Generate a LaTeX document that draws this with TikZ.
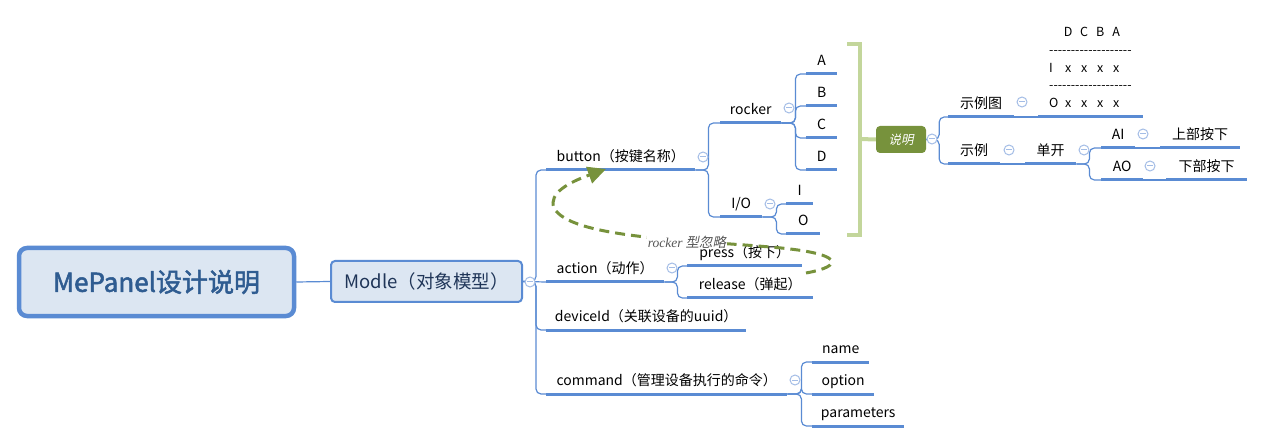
\documentclass[tikz,border=0pt]{standalone}
\usepackage{fontspec}
\setmainfont{Noto Sans CJK SC}
\newfontfamily\slantcjk{Noto Sans CJK SC}[FakeSlant=0.2]
\newfontfamily\rootfont{Noto Sans CJK SC}[FakeBold=2]
\newfontfamily\labelserif{Liberation Serif}
\usetikzlibrary{arrows.meta,calc}
\definecolor{lineblue}{HTML}{5A8BD3}
\definecolor{boxfill}{HTML}{DCE6F2}
\definecolor{foldblue}{HTML}{A4BDE6}
\definecolor{olivegreen}{HTML}{77923C}
\definecolor{brgreen}{HTML}{C3D69B}
\definecolor{roottext}{HTML}{2F5C91}
\definecolor{modtext}{HTML}{1F3558}
\definecolor{lbltext}{HTML}{555555}
\newcommand\dashrow{-{}-{}-{}-{}-{}-{}-{}-{}-{}-{}-{}-{}-{}-{}-{}-{}-{}-{}-{}}
\newcommand\gcell[1]{\makebox[16pt]{#1}}
\begin{document}
\begin{tikzpicture}[x=1pt,y=-1pt,
  topic/.style={anchor=south west, inner xsep=0pt, inner ysep=5pt, text height=11pt, text depth=3pt,
    font=\fontsize{14}{16}\selectfont, minimum width=#1pt},
  ul/.style={draw=lineblue, line width=3pt},
  conn/.style={draw=lineblue, line width=1.2pt, rounded corners=5pt},
  fold/.style={circle, draw=foldblue, line width=1pt, fill=white, minimum size=10pt, inner sep=0pt,
    path picture={\draw[foldblue, line width=1pt] ([xshift=-3pt]path picture bounding box.center) -- ([xshift=3pt]path picture bounding box.center);}},
  rootbox/.style={draw=lineblue, line width=4.5pt, fill=boxfill, rounded corners=8pt,
    minimum width=275pt, minimum height=68pt, text=roottext, font=\rootfont\fontsize{26}{30}\selectfont},
  modbox/.style={draw=lineblue, line width=2pt, fill=boxfill, rounded corners=4pt,
    minimum width=191pt, minimum height=41pt, text=modtext, font=\fontsize{18.5}{22}\selectfont},
  smbox/.style={fill=olivegreen, rounded corners=4pt, minimum width=50pt, minimum height=27pt,
    text=white, font=\slantcjk\fontsize{12.5}{14}\selectfont},
  bracket/.style={draw=brgreen, line width=4pt},
  dasharrow/.style={draw=olivegreen, line width=3pt, dash pattern=on 10pt off 6pt,
    -{Triangle[length=18pt,width=17pt]}},
  lbl/.style={fill=white, inner sep=1pt, text=lbltext, font=\fontsize{13.5}{15}\selectfont},
  gridbox/.style={anchor=south west, inner xsep=11pt, inner ysep=9pt, text width=83pt,
    align=left, font=\fontsize{12.5}{17.75}\selectfont}
]
\useasboundingbox (0,0) rectangle (1265,443);

% main nodes
\node[rootbox] (root) at (156.5,282) {MePanel设计说明};
\node[modbox] (modle) at (426.5,281.5) {Modle（对象模型）};

% level 1
\node[topic=149] (button)  at (546,170) {button（按键名称）};
\node[topic=118] (action)  at (546,282) {action（动作）};
\node[topic=200] (device)  at (546,330) {deviceId（关联设备的uuid）};
\node[topic=241] (command) at (546,394) {command（管理设备执行的命令）};

% button subtree
\node[topic=61] (rocker) at (720,123) {rocker};
\node[topic=42] (io)     at (720,217) {I/O};
\node[topic=31] (A) at (806,74)  {A};
\node[topic=31] (B) at (806,106) {B};
\node[topic=31] (C) at (806,138) {C};
\node[topic=31] (D) at (806,170) {D};
\node[topic=27] (I) at (786,204) {I};
\node[topic=34] (O) at (786,234) {O};

% action subtree
\node[topic=115] (press)   at (687,266) {press（按下）};
\node[topic=126] (release) at (687,298) {release（弹起）};

% command subtree
\node[topic=57] (name)   at (812,362) {name};
\node[topic=62] (option) at (812,394) {option};
\node[topic=92] (params) at (812,426) {parameters};

% summary
\node[smbox] (sm) at (901,139.5) {说明};
\node[topic=66] (shilitu) at (948,117) {示例图};
\node[topic=52] (shili)   at (948,164) {示例};
\node[gridbox] (grid) at (1038,117) {%
\makebox[11pt]{}\gcell{D}\gcell{C}\gcell{B}\gcell{A}\\
\dashrow\\
\makebox[11pt][l]{I}\gcell{x}\gcell{x}\gcell{x}\gcell{x}\\
\dashrow\\
\makebox[11pt][l]{O}\gcell{x}\gcell{x}\gcell{x}\gcell{x}};
\node[topic=51] (dankai) at (1025,164) {单开};
\node[topic=34] (AI) at (1101,148) {AI};
\node[topic=42] (AO) at (1101,180) {AO};
\node[topic=80] (up)   at (1160,148) {上部按下};
\node[topic=81] (down) at (1166,180) {下部按下};

% underlines
\foreach \n in {button,action,device,command,rocker,io,A,B,C,D,I,O,press,release,name,option,params,shilitu,shili,grid,dankai,AI,AO,up,down}
  \draw[ul] (\n.south west) -- (\n.south east);

% connectors
\draw[conn] (root.east) -- (modle.west);
\draw[conn] (modle.east) -- (action.south west);
\foreach \n in {button,device,command} \draw[conn] (modle.east) -- ++(13,0) |- (\n.south west);
\foreach \n in {rocker,io} \draw[conn] (button.south east) -- ++(13,0) |- (\n.south west);
\foreach \n in {A,B,C,D} \draw[conn] (rocker.south east) -- ++(14,0) |- (\n.south west);
\foreach \n in {I,O} \draw[conn] (io.south east) -- ++(14,0) |- (\n.south west);
\foreach \n in {press,release} \draw[conn] (action.south east) -- ++(13,0) |- (\n.south west);
\foreach \n in {name,option,params} \draw[conn] (command.south east) -- ++(14,0) |- (\n.south west);
\foreach \n in {shilitu,shili} \draw[conn] (sm.east) -- ++(13,0) |- (\n.south west);
\draw[conn] (shilitu.south east) -- (grid.south west);
\draw[conn] (shili.south east) -- (dankai.south west);
\foreach \n in {AI,AO} \draw[conn] (dankai.south east) -- ++(13,0) |- (\n.south west);
\draw[conn] (AI.south east) -- (up.south west);
\draw[conn] (AO.south east) -- (down.south west);

% summary bracket
\coordinate (brtop) at (847,44);
\coordinate (brmid) at (860,139);
\coordinate (brbot) at (847,235);
\draw[bracket] (brtop) -| (brmid) |- (brbot);
\draw[bracket] (brmid) -- (sm.west);

% fold markers
\node[fold] (f1)  at (530,282) {};
\node[fold] (f2)  at (703,157) {};
\node[fold] (f3)  at (789,108) {};
\node[fold] (f4)  at (770,204) {};
\node[fold] (f5)  at (672,268) {};
\node[fold] (f6)  at (795,380) {};
\node[fold] (f7)  at (932,139) {};
\node[fold] (f8)  at (1022,102) {};
\node[fold] (f9)  at (1009,150) {};
\node[fold] (f10) at (1084,150) {};
\node[fold] (f11) at (1143,134) {};
\node[fold] (f12) at (1150,166) {};

% relationship arrow
\coordinate (dstart) at (806,273);
\coordinate (dend) at ($(button.south west)+(60,-1)$);
\draw[dasharrow] (dstart) .. controls (845,266) and (845,253) .. (770,247)
  .. controls (690,240) and (570,238) .. (554,208)
  .. controls (548,193) and (570,182) .. (dend);
\node[lbl] (rel) at (687,242) {{\labelserif\itshape rocker} {\slantcjk 型忽略}};
\end{tikzpicture}
\end{document}
